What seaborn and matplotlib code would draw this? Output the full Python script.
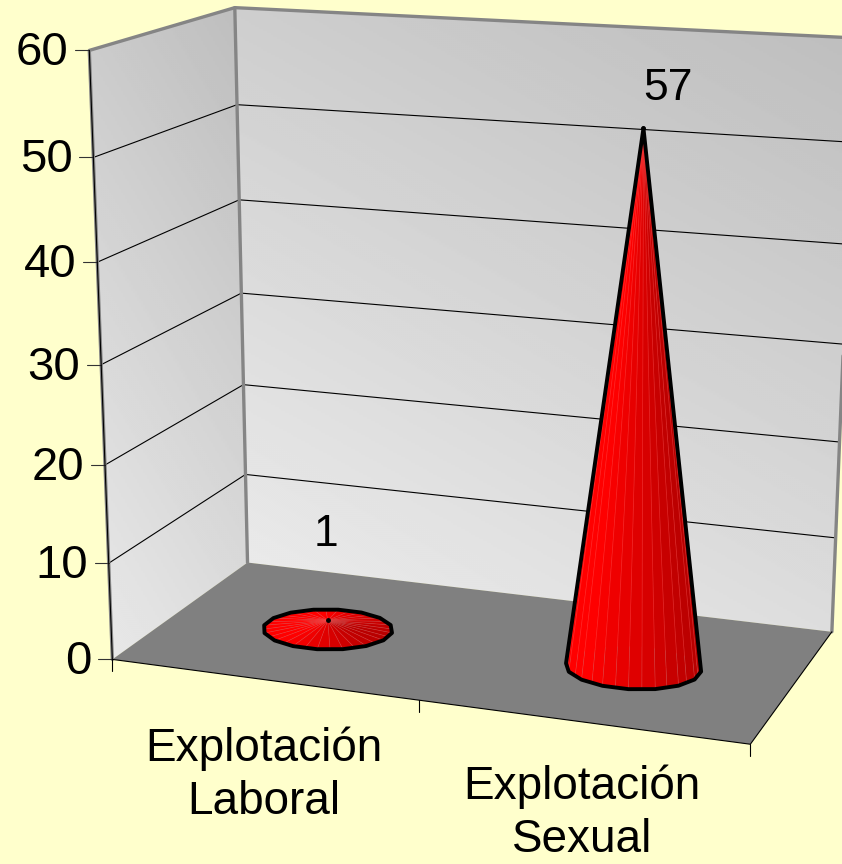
import numpy as np
import pandas as pd
import matplotlib
matplotlib.use("Agg")
import matplotlib.pyplot as plt
from matplotlib.patches import Polygon
import seaborn as sns

categories = ["Explotación\nLaboral", "Explotación\nSexual"]
values = [1, 57]
value_ticks = [0, 10, 20, 30, 40, 50, 60]

BG = "#FFFFCC"
sns.set_theme(style="white", rc={"figure.facecolor": BG, "savefig.facecolor": BG})
plt.rcParams["font.family"] = ["Liberation Sans", "DejaVu Sans"]

# camera calibration: (width, depth, value) -> picture pixel
world = np.array([[0,0,0],[1,0,0],[0,1,0],[1,1,0],[0,0,60],[0,1,60],[1,1,60]], float)
pix = np.array([[112,660],[750,744],[248,562],[832,632],[90,50],[234,8],[856,38]], float)
rows, rhs = [], []
for (a, b, c), (u, v) in zip(world, pix):
    rows.append([a, b, c, 1, 0, 0, 0, 0, -u*a, -u*b, -u*c]); rhs.append(u)
    rows.append([0, 0, 0, 0, a, b, c, 1, -v*a, -v*b, -v*c]); rhs.append(v)
cam = np.append(np.linalg.lstsq(np.array(rows), np.array(rhs), rcond=None)[0], 1).reshape(3, 4)

def proj(a, b, c):
    h = cam @ np.array([a, b, c, 1.0])
    return h[0] / h[2], h[1] / h[2]

fig = plt.figure(figsize=(8.42, 8.64), dpi=100)
ax = fig.add_axes([0, 0, 1, 1])
ax.set_xlim(0, 842); ax.set_ylim(864, 0); ax.axis("off")

def grad_wall(corners, c0, c1, direction):
    p = Polygon(corners, closed=True, fc="none", ec="none", transform=ax.transData)
    ax.add_patch(p)
    yy, xx = np.mgrid[0:864:2, 0:842:2]
    g = (xx * direction[0] + yy * direction[1])
    xs = np.array(corners)
    lo = (xs[:, 0] * direction[0] + xs[:, 1] * direction[1]).min()
    hi = (xs[:, 0] * direction[0] + xs[:, 1] * direction[1]).max()
    t = np.clip((g - lo) / (hi - lo), 0, 1)
    im = ax.imshow(c0 + (c1 - c0) * t, cmap="gray", vmin=0, vmax=255, extent=(0, 842, 864, 0),
                   aspect="auto", zorder=1, interpolation="bilinear")
    im.set_clip_path(p)

vmax = value_ticks[-1]
grad_wall([proj(0,0,0), proj(0,1,0), proj(0,1,vmax), proj(0,0,vmax)], 232, 190, (1, -0.6))
grad_wall([proj(0,1,0), proj(1,1,0), proj(1,1,vmax), proj(0,1,vmax)], 234, 190, (0.55, -1))
ax.set_xlim(0, 842); ax.set_ylim(864, 0)

ax.add_patch(Polygon([proj(0,0,0), proj(1,0,0), proj(1,1,0), proj(0,1,0)], closed=True, fc="#808080", ec="none", zorder=2))

# gridlines
recs = []
for v in value_ticks[1:-1]:
    for i, (a, b) in enumerate([(0, 0), (0, 1), (1, 1)]):
        x, y = proj(a, b, v)
        recs.append(dict(v=v, i=i, x=x, y=y))
grid = pd.DataFrame(recs)
sns.lineplot(data=grid, x="x", y="y", units="v", estimator=None, sort=False, color="black",
             lw=0.8, ax=ax, zorder=3, legend=False)
ax.set_xlim(0, 842); ax.set_ylim(864, 0); ax.axis("off")

GREY = "#858585"
for pts in ([(0,0,0),(0,0,vmax),(0,1,vmax),(1,1,vmax)], [(0,1,0),(0,1,vmax)], [(1,1,0),(1,1,vmax)]):
    q = np.array([proj(*p) for p in pts])
    ax.plot(q[:, 0], q[:, 1], color=GREY, lw=2.4, zorder=3, solid_capstyle="round")
q = np.array([proj(0,0,0), proj(0,0,vmax)])
ax.plot(q[:, 0], q[:, 1], color="black", lw=0.8, zorder=3.1)
q = np.array([proj(0,0,0), proj(1,0,0), proj(1,1,0)])
ax.plot(q[:, 0], q[:, 1], color="black", lw=0.8, zorder=3.1)

for v in value_ticks:
    x, y = proj(0, 0, v)
    ax.plot([x - 14, x], [y, y], color="#333333", lw=0.8, zorder=3)
    ax.text(x - 21, y + 3, str(v), ha="right", va="center", fontsize=34, color="black", zorder=5)
for a in (0, 0.5, 1):
    x, y = proj(a, 0, 0)
    ax.plot([x, x], [y, y + 12], color="black", lw=0.8, zorder=3)

def hull(points):
    pts = sorted(map(tuple, points))
    def half(seq):
        out = []
        for p in seq:
            while len(out) > 1 and (out[-1][0]-out[-2][0])*(p[1]-out[-2][1]) - (out[-1][1]-out[-2][1])*(p[0]-out[-2][0]) <= 0:
                out.pop()
            out.append(p)
        return out[:-1]
    return half(pts) + half(pts[::-1])

CONE_HEIGHT = 0.932   # the drawn cones stop slightly below their nominal height
N = 16
R_W, R_D = 0.103, 0.185
DEPTH = 0.48
for k, val in enumerate(values):
    a0 = 0.25 + 0.5 * k + 0.005
    ang = np.linspace(0, 2*np.pi, N, endpoint=False) + np.pi/N
    ring = [proj(a0 + R_W*np.cos(t), DEPTH + R_D*np.sin(t), 0) for t in ang]
    ring2 = []
    for i in range(N):
        j = (i + 1) % N
        ring2 += [ring[i], ((ring[i][0]+ring[j][0])/2, (ring[i][1]+ring[j][1])/2)]
    tip = proj(a0, DEPTH, val * CONE_HEIGHT)
    M = len(ring2)
    angs = np.linspace(0, 2*np.pi, M, endpoint=False) + np.pi/N
    order = sorted(range(M), key=lambda i: np.sin(angs[i]), reverse=True)
    for i in order:
        j = (i + 1) % M
        mid = angs[i] + np.pi/M
        t = 0.5 - 0.5*np.cos(mid)      # 0 at right, 1 at left
        col = (0.72 + 0.28*min(t / 0.75, 1)**0.8, 0, 0)
        ax.add_patch(Polygon([tip, ring2[i], ring2[j]], closed=True, fc=col,
                             ec=(1, 0.4, 0.4, 0.3), lw=0.5, zorder=4))
    ax.add_patch(Polygon(hull(ring + [tip]), closed=True, fc="none", ec="black", lw=2.8,
                         joinstyle="round", zorder=4.5))
    ax.plot(*tip, "o", color="black", ms=2.5, zorder=4.6)

label_off = [(1, -86), (28, -40)]
for k, val in enumerate(values):
    tip = proj(0.25 + 0.5*k, DEPTH, val * CONE_HEIGHT)
    ax.text(tip[0] + label_off[k][0], tip[1] + label_off[k][1], str(val), ha="center", va="center",
            fontsize=32, color="black", zorder=6)

cat_pos = [(264, 775), (582, 813)]
for (x, y), c in zip(cat_pos, categories):
    ax.text(x, y, c, ha="center", va="center", fontsize=33, linespacing=1.25, color="black", zorder=6)

fig.savefig("out.png", dpi=100)
